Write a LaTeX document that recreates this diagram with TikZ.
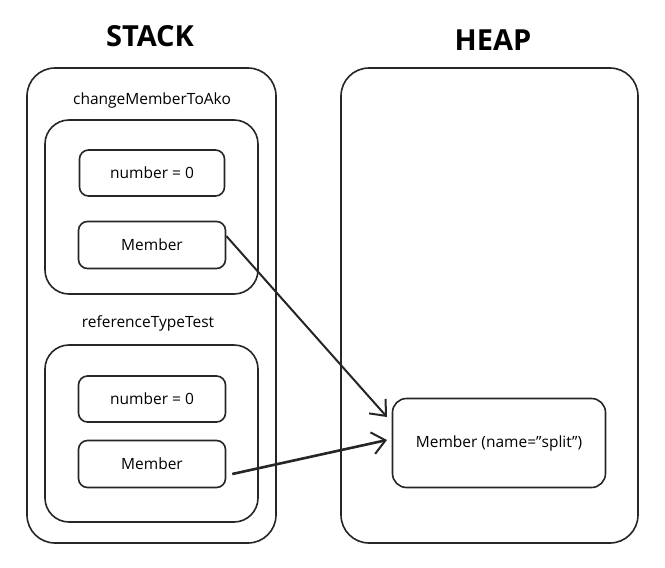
\documentclass[tikz,border=0pt]{standalone}
\usepackage{fontspec}
\setmainfont{Open Sans}
\usetikzlibrary{arrows.meta}
\begin{document}
\begin{tikzpicture}[x=1pt,y=-1pt,
  frame/.style={draw=black!85,line width=1.6pt},
  bigbox/.style={frame,rounded corners=28pt},
  midbox/.style={frame,rounded corners=24pt},
  cell/.style={frame,rounded corners=9pt},
  lbl/.style={font=\fontsize{15.5}{18}\selectfont},
  ttl/.style={font=\fontsize{29}{32}\selectfont\bfseries},
  ptr/.style={draw=black!85,line width=2pt,-{Straight Barb[length=13pt,width=22pt,line width=2pt]}}]
\useasboundingbox (0,0) rectangle (665,568);
\fill[white] (0,0) rectangle (665,568);
% titles
\node[ttl] (stackt) at (150,36) {STACK};
\node[ttl] (heapt) at (493,40) {HEAP};
% outer boxes
\draw[bigbox] (27,68) rectangle (276,543);
\draw[bigbox] (341,68) rectangle (638,543);
% frame 1
\node[lbl] (f1) at (152,100) {changeMemberToAko};
\draw[midbox] (45,120) rectangle (258,294);
\node[cell,minimum width=145pt,minimum height=46pt,lbl] (n1) at (152,173) {number = 0};
\node[cell,minimum width=147pt,minimum height=47pt,lbl] (m1) at (152,245) {Member};
% frame 2
\node[lbl] (f2) at (148,323) {referenceTypeTest};
\draw[midbox] (45,345) rectangle (258,522);
\node[cell,minimum width=147pt,minimum height=46pt,lbl] (n2) at (152,399) {number = 0};
\node[cell,minimum width=147pt,minimum height=47pt,lbl] (m2) at (152,464) {Member};
% heap object
\node[cell,rounded corners=14pt,minimum width=213pt,minimum height=89pt,lbl] (obj) at (499,443) {Member (name="split")};
\coordinate (t1) at (387,417);
\coordinate (t2) at (387,440);
\draw[ptr] (m1.east) ++(0,-9) -- (t1);
\draw[ptr,line width=2.6pt] ([xshift=6pt,yshift=-10pt]m2.east) -- (t2);
\end{tikzpicture}
\end{document}
